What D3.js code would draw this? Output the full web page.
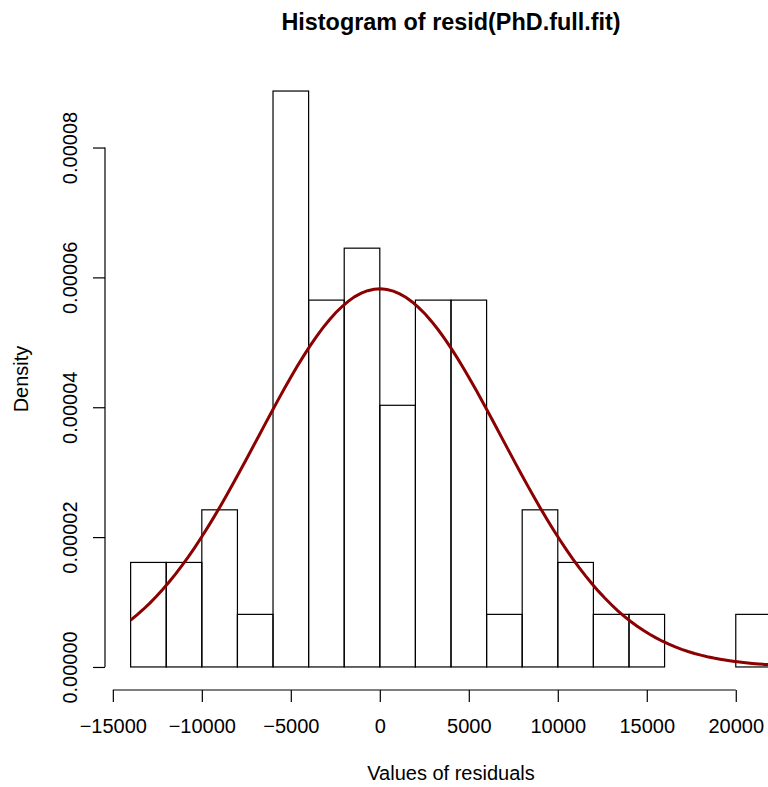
<!DOCTYPE html>
<html>
<head>
<meta charset="utf-8">
<script src="https://cdn.jsdelivr.net/npm/d3@7"></script>
<style>
  body { margin: 0; background: #fff; }
  svg { display: block; font-family: "Liberation Sans", Arial, sans-serif; }
</style>
</head>
<body>
<svg id="chart" width="768" height="787"></svg>
<script>
// histogram breaks and densities
const breaks = [-14000, -12000, -10000, -8000, -6000, -4000, -2000, 0, 2000, 4000,
  6000, 8000, 10000, 12000, 14000, 16000, 18000, 20000, 22000];
const density = [0.0000161, 0.0000161, 0.0000242, 0.0000081, 0.0000887, 0.0000565,
  0.0000645, 0.0000403, 0.0000565, 0.0000565, 0.0000081, 0.0000242, 0.0000161,
  0.0000081, 0.0000081, 0, 0, 0.0000081];
const xTicks = [-15000, -10000, -5000, 0, 5000, 10000, 15000, 20000];
const yTicks = [0, 0.00002, 0.00004, 0.00006, 0.00008];
// normal curve drawn over it
const fitMean = 0;
const fitSd = 6850;

const svg = d3.select("#chart");

// plot region, R style (4% padding on both axes)
const plotL = 105, plotR = 797, plotT = 68, plotB = 690;
const xr = [breaks[0], breaks[breaks.length - 1]];
const xpad = (xr[1] - xr[0]) * 0.04;
const ymax = d3.max(density);
const ypad = ymax * 0.04;

const x = d3.scaleLinear().domain([xr[0] - xpad, xr[1] + xpad]).range([plotL, plotR]);
const y = d3.scaleLinear().domain([-ypad, ymax + ypad]).range([plotB, plotT]);

const bins = density.map((d, i) => ({ x0: breaks[i], x1: breaks[i + 1], d: d }));

svg.append("g")
  .selectAll("rect")
  .data(bins)
  .join("rect")
  .attr("x", d => x(d.x0))
  .attr("y", d => y(d.d))
  .attr("width", d => x(d.x1) - x(d.x0))
  .attr("height", d => y(0) - y(d.d))
  .attr("fill", "none")
  .attr("stroke", "#000")
  .attr("stroke-width", 1.2);

// density curve
const dnorm = v => Math.exp(-0.5 * ((v - fitMean) / fitSd) ** 2) / (fitSd * Math.sqrt(2 * Math.PI));
const curvePts = d3.range(101).map(i => {
  const v = xr[0] + (xr[1] - xr[0]) * i / 100;
  return [v, dnorm(v)];
});
svg.append("path")
  .datum(curvePts)
  .attr("d", d3.line().x(d => x(d[0])).y(d => y(d[1])))
  .attr("fill", "none")
  .attr("stroke", "#8b0000")
  .attr("stroke-width", 3);

// x axis
const xAxis = svg.append("g")
  .attr("transform", `translate(0,${plotB})`)
  .call(d3.axisBottom(x).tickValues(xTicks).tickSize(12).tickPadding(17)
    .tickFormat(d => d3.format("d")(d).replace("-", "\u2212")));
xAxis.select(".domain").attr("d", `M${x(xTicks[0])},0H${x(xTicks[xTicks.length - 1])}`)
  .attr("stroke-width", 1.2);
xAxis.selectAll(".tick line").attr("stroke-width", 1.2);
xAxis.selectAll("text").attr("font-size", 20).attr("fill", "#000");

// y axis
const yAxis = svg.append("g")
  .attr("transform", `translate(${plotL},0)`)
  .call(d3.axisLeft(y).tickValues(yTicks).tickSize(12).tickFormat(d3.format(".5f")));
yAxis.select(".domain").attr("d", `M0,${y(yTicks[0])}V${y(yTicks[yTicks.length - 1])}`)
  .attr("stroke-width", 1.2);
yAxis.selectAll(".tick line").attr("stroke-width", 1.2);
yAxis.selectAll("text")
  .attr("font-size", 20).attr("fill", "#000")
  .attr("x", null).attr("dy", null)
  .attr("text-anchor", "middle")
  .attr("transform", "translate(-28,0) rotate(-90)");

// titles
const midX = (plotL + plotR) / 2;
svg.append("text")
  .attr("x", midX).attr("y", 30)
  .attr("text-anchor", "middle")
  .attr("font-size", 23.4).attr("font-weight", "bold")
  .text("Histogram of resid(PhD.full.fit)");

svg.append("text")
  .attr("x", midX).attr("y", 780)
  .attr("text-anchor", "middle")
  .attr("font-size", 20)
  .text("Values of residuals");

svg.append("text")
  .attr("transform", `translate(28,${(plotT + plotB) / 2}) rotate(-90)`)
  .attr("text-anchor", "middle")
  .attr("font-size", 20)
  .text("Density");
</script>
</body>
</html>
